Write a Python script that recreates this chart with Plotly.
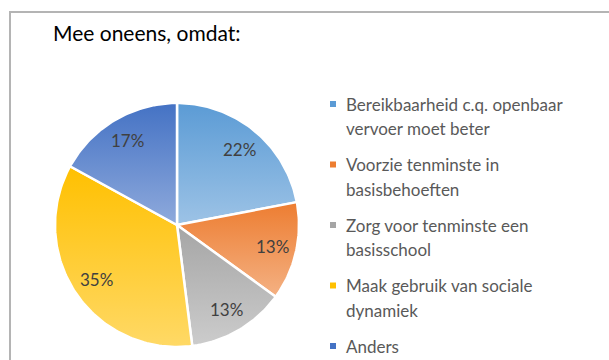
import math
import textwrap
import plotly.graph_objects as go

# Survey answers (share of respondents, %)
categories = [
    "Bereikbaarheid c.q. openbaar vervoer moet beter",
    "Voorzie tenminste in basisbehoeften",
    "Zorg voor tenminste een basisschool",
    "Maak gebruik van sociale dynamiek",
    "Anders",
]
shares = [22, 13, 13, 35, 17]

# Gradient (top -> bottom) per slice
top_colors = ["#5b9bd5", "#ed7d31", "#a5a5a5", "#ffc000", "#4472c4"]
bottom_colors = ["#9dc3e6", "#f4b183", "#cccccc", "#ffd966", "#8faadc"]

W, H = 609, 360
CX, CY, R = 177, 225, 122
LABEL_R = 0.8
FONT = "Lato"

fig = go.Figure()

total = sum(shares)
start = 0.0
for name, val, c0, c1 in zip(categories, shares, top_colors, bottom_colors):
    a0 = start / total * 2 * math.pi
    a1 = (start + val) / total * 2 * math.pi
    n = max(8, int(val * 3))
    xs, ys = [CX], [CY]
    for i in range(n + 1):
        a = a0 + (a1 - a0) * i / n
        xs.append(CX + R * math.sin(a))
        ys.append(CY - R * math.cos(a))
    xs.append(CX)
    ys.append(CY)
    fig.add_trace(go.Scatter(
        x=xs, y=ys, mode="lines", fill="toself",
        line=dict(color="white", width=2.5),
        fillgradient=dict(type="vertical",
                          colorscale=[[0, c0], [1, c1]],
                          start=min(ys), stop=max(ys)),
        hoverinfo="skip", showlegend=False,
    ))
    am = (a0 + a1) / 2
    fig.add_annotation(
        x=CX + LABEL_R * R * math.sin(am), y=CY - LABEL_R * R * math.cos(am),
        text=f"{val}%", showarrow=False,
        font=dict(family=FONT, size=17, color="#404040"),
    )
    start += val

# Legend: small square swatch + wrapped label lines
LEG_X, LEG_Y0, LEG_STEP, LINE_H = 333, 104, 60.5, 24.5
for k, (name, c0) in enumerate(zip(categories, top_colors)):
    y = LEG_Y0 + k * LEG_STEP
    fig.add_shape(type="rect", xref="x", yref="y",
                  x0=LEG_X - 3, x1=LEG_X + 3, y0=y - 3, y1=y + 3,
                  fillcolor=c0, line=dict(width=0))
    for j, line in enumerate(textwrap.wrap(name, 28)):
        fig.add_annotation(
            x=LEG_X + 11, y=y + j * LINE_H, text=line, showarrow=False,
            xanchor="left", yanchor="middle",
            font=dict(family=FONT, size=17, color="#595959"),
        )

# Chart frame
fig.add_shape(type="rect", xref="x", yref="y", x0=10, y0=12, x1=W + 20, y1=H + 20,
              line=dict(color="#b4b4b4", width=2), fillcolor="rgba(0,0,0,0)", layer="above")

fig.add_annotation(
    x=51, y=32, text="Mee oneens, omdat:", showarrow=False,
    xanchor="left", yanchor="middle",
    font=dict(family=FONT, size=21, color="#000000"),
)

fig.update_layout(
    width=W, height=H,
    margin=dict(l=0, r=0, t=0, b=0),
    paper_bgcolor="white", plot_bgcolor="white",
    xaxis=dict(range=[0, W], visible=False, fixedrange=True),
    yaxis=dict(range=[H, 0], visible=False, fixedrange=True),
    showlegend=False,
)

fig.write_html("out.html")
